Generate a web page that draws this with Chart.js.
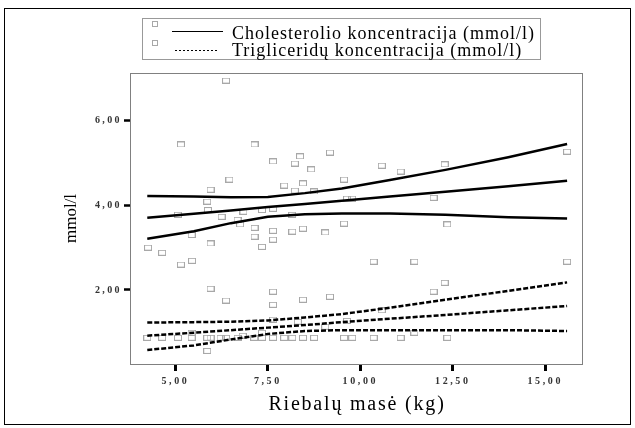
<!DOCTYPE html>
<html>
<head>
<meta charset="utf-8">
<script src="https://cdn.jsdelivr.net/npm/chart.js@4/dist/chart.umd.min.js"></script>
<style>
    html, body { margin: 0; padding: 0; background: #fff; }
    canvas { display: block; }
</style>
</head>
<body>
<canvas id="fatChart" width="635" height="428"></canvas>
<script>
const SERIES_LABELS = ['Cholesterolio koncentracija (mmol/l)', 'Trigliceridų koncentracija (mmol/l)'];
const X_TITLE = 'Riebalų masė (kg)';
const Y_TITLE = 'mmol/l';
const X_TICKS = [5, 7.5, 10, 12.5, 15];
const Y_TICKS = [2, 4, 6];

// measured points (fat mass kg -> mmol/l)
const CHOL_X = [6.37, 5.15, 7.14, 7.64, 8.23, 8.37, 8.67, 9.18, 6.46, 5.95, 7.94, 8.23, 8.45, 8.75, 9.56, 9.64, 9.78,
    5.86, 5.07, 5.88, 6.25, 6.68, 6.75, 6.84, 7.34, 7.64, 8.16, 5.44, 4.26, 4.64, 5.15, 5.45, 5.95, 7.14, 7.14,
    7.64, 7.64, 7.34, 8.16, 8.45, 9.05, 9.56, 10.58, 11.09, 12.28, 15.59, 11.98, 12.35, 10.36, 11.46, 15.59];
const CHOL_Y = [6.95, 5.44, 5.44, 5.04, 4.99, 5.16, 4.85, 5.25, 4.61, 4.37, 4.47, 4.35, 4.52, 4.33, 4.61, 4.16, 4.16,
    4.09, 3.78, 3.89, 3.73, 3.66, 3.55, 3.85, 3.89, 3.92, 3.78, 3.30, 3.00, 2.88, 2.60, 2.69, 3.10, 3.47, 3.26,
    3.40, 3.19, 3.02, 3.38, 3.45, 3.36, 3.57, 4.94, 4.80, 4.97, 5.27, 4.18, 3.55, 2.67, 2.67, 2.67];

const TRIG_X = [5.95, 7.64, 6.37, 7.64, 8.45, 9.18, 7.64, 8.31, 9.64, 5.44, 7.34, 6.82, 9.05, 10.58, 11.98, 12.28,
    11.46, 5.86, 4.24, 4.64, 5.07, 5.44, 5.86, 5.95, 6.22, 6.37, 6.68, 7.13, 7.34, 7.64, 7.94, 8.16, 8.45, 8.75,
    9.56, 9.78, 10.36, 11.09, 12.35];
const TRIG_Y = [2.03, 1.96, 1.75, 1.65, 1.77, 1.84, 1.30, 1.25, 1.27, 0.99, 0.99, 0.92, 1.13, 1.52, 1.96, 2.17,
    0.99, 0.56, 0.87, 0.87, 0.87, 0.87, 0.87, 0.87, 0.87, 0.87, 0.87, 0.87, 0.87, 0.87, 0.87, 0.87, 0.87, 0.87,
    0.87, 0.87, 0.87, 0.87, 0.87];

// regression line and its confidence band, read at FIT_X
const FIT_X = [4.24, 5.5, 6.5, 7.5, 8.5, 9.5, 10.8, 12.3, 14, 15.59];
const CHOL_UPPER = [4.22, 4.21, 4.19, 4.20, 4.29, 4.40, 4.60, 4.84, 5.14, 5.45];
const CHOL_FIT = [3.71, 3.80, 3.88, 3.96, 4.03, 4.11, 4.21, 4.32, 4.45, 4.58];
const CHOL_LOWER = [3.21, 3.39, 3.58, 3.73, 3.79, 3.81, 3.81, 3.78, 3.72, 3.69];
const TRIG_UPPER = [1.23, 1.24, 1.25, 1.28, 1.35, 1.43, 1.58, 1.77, 1.98, 2.18];
const TRIG_FIT = [0.92, 0.99, 1.05, 1.11, 1.17, 1.24, 1.32, 1.41, 1.52, 1.62];
const TRIG_LOWER = [0.58, 0.69, 0.83, 0.96, 1.03, 1.05, 1.05, 1.05, 1.05, 1.03];

const SERIF = '"Liberation Serif", "Times New Roman", serif';

// letter spacing per scale part (the original export has stretched text)
const SPACING = {
    x: { labels: '2.6px', title: '1.8px' },
    y: { labels: '2.4px', title: '0px' }
};

function zip(xs, ys) {
    return xs.map((x, i) => ({ x, y: ys[i] }));
}

function boxMarker(w, h, color) {
    const c = document.createElement('canvas');
    c.width = w + 1;
    c.height = h + 1;
    const g = c.getContext('2d');
    g.strokeStyle = color;
    g.lineWidth = 1;
    g.strokeRect(0.5, 0.5, w, h);
    return c;
}

const marker = boxMarker(7, 5, '#a8a8a8');

function pointSet(label, xs, ys) {
    return {
        label,
        data: zip(xs, ys),
        pointStyle: marker,
        pointRadius: 4,
        pointHoverRadius: 4,
        showLine: false,
        order: 2
    };
}

function lineSet(ys, dashed) {
    return {
        data: zip(FIT_X, ys),
        showLine: true,
        borderColor: '#000',
        borderWidth: 2.5,
        borderDash: dashed ? [5, 2] : [],
        pointRadius: 0,
        pointHoverRadius: 0,
        tension: 0,
        order: 1
    };
}

const fmt = v => Number(v).toFixed(2).replace('.', ',');

function withSpacing(fn, spacing) {
    return function () {
        const ctx = this.ctx;
        const prev = ctx.letterSpacing;
        ctx.letterSpacing = spacing;
        fn.apply(this, arguments);
        ctx.letterSpacing = prev;
    };
}

// frame, plot border, legend, spaced axis text
const spssLook = {
    id: 'spssLook',
    beforeDraw(chart) {
        Object.keys(SPACING).forEach(id => {
            const scale = chart.scales[id];
            if (!scale || scale._spaced) return;
            scale.drawLabels = withSpacing(scale.drawLabels, SPACING[id].labels);
            scale.drawTitle = withSpacing(scale.drawTitle, SPACING[id].title);
            scale._spaced = true;
        });
    },
    afterDraw(chart) {
        const ctx = chart.ctx;
        const a = chart.chartArea;
        ctx.save();

        ctx.strokeStyle = '#808080';
        ctx.lineWidth = 1;
        ctx.strokeRect(Math.round(a.left) - 0.5, Math.round(a.top) + 0.5,
            Math.round(a.right - a.left), Math.round(a.bottom - a.top));

        ctx.strokeStyle = '#000';
        ctx.strokeRect(4.5, 8.5, 626, 416);

        // legend
        ctx.strokeStyle = '#999';
        ctx.strokeRect(142.5, 18.5, 398, 41);

        ctx.strokeStyle = '#a8a8a8';
        ctx.strokeRect(152.5, 21.5, 5, 5);
        ctx.strokeRect(152.5, 40.5, 5, 5);

        ctx.strokeStyle = '#000';
        ctx.lineWidth = 1;
        ctx.beginPath();
        ctx.moveTo(172, 31.5);
        ctx.lineTo(223, 31.5);
        ctx.stroke();
        ctx.setLineDash([2, 2]);
        ctx.beginPath();
        ctx.moveTo(175, 50.5);
        ctx.lineTo(217, 50.5);
        ctx.stroke();
        ctx.setLineDash([]);

        ctx.letterSpacing = '1px';
        ctx.fillStyle = '#000';
        ctx.font = '18px ' + SERIF;
        ctx.textBaseline = 'alphabetic';
        ctx.fillText(SERIES_LABELS[0], 232, 39);
        ctx.fillText(SERIES_LABELS[1], 232, 56);
        ctx.letterSpacing = '0px';
        ctx.restore();
    }
};

const ctx = document.getElementById('fatChart').getContext('2d');

new Chart(ctx, {
    type: 'scatter',
    data: {
        datasets: [
            pointSet(SERIES_LABELS[0], CHOL_X, CHOL_Y),
            pointSet(SERIES_LABELS[1], TRIG_X, TRIG_Y),
            lineSet(CHOL_UPPER, false),
            lineSet(CHOL_FIT, false),
            lineSet(CHOL_LOWER, false),
            lineSet(TRIG_UPPER, true),
            lineSet(TRIG_FIT, true),
            lineSet(TRIG_LOWER, true)
        ]
    },
    options: {
        responsive: false,
        animation: false,
        devicePixelRatio: 1,
        layout: { padding: { left: 0, top: 73, right: 52, bottom: 0 } },
        plugins: {
            legend: { display: false },
            tooltip: { enabled: false }
        },
        scales: {
            x: {
                type: 'linear',
                position: 'bottom',
                min: 3.8,
                max: 16.02,
                afterBuildTicks: axis => { axis.ticks = X_TICKS.map(v => ({ value: v })); },
                afterFit: axis => { axis.height = 64; },
                border: { display: false },
                grid: {
                    drawOnChartArea: false,
                    drawTicks: true,
                    tickLength: 7,
                    tickWidth: 3,
                    tickColor: '#000'
                },
                ticks: {
                    callback: fmt,
                    color: '#333',
                    font: { family: SERIF, size: 10, weight: 'bold' },
                    padding: 4,
                    maxRotation: 0
                },
                title: {
                    display: true,
                    text: X_TITLE,
                    color: '#000',
                    font: { family: SERIF, size: 20 },
                    padding: { top: 0, bottom: 11 }
                }
            },
            y: {
                type: 'linear',
                position: 'left',
                min: 0.25,
                max: 7.13,
                afterBuildTicks: axis => { axis.ticks = Y_TICKS.map(v => ({ value: v })); },
                afterFit: axis => { axis.width = 131; },
                border: { display: false },
                grid: {
                    drawOnChartArea: false,
                    drawTicks: true,
                    tickLength: 7,
                    tickWidth: 2.5,
                    tickColor: '#000'
                },
                ticks: {
                    callback: fmt,
                    color: '#333',
                    font: { family: SERIF, size: 10, weight: 'bold' },
                    padding: 2
                },
                title: {
                    display: true,
                    text: Y_TITLE,
                    color: '#000',
                    font: { family: SERIF, size: 17 },
                    padding: { top: 61, bottom: 0 }
                }
            }
        }
    },
    plugins: [spssLook]
});
</script>
</body>
</html>
